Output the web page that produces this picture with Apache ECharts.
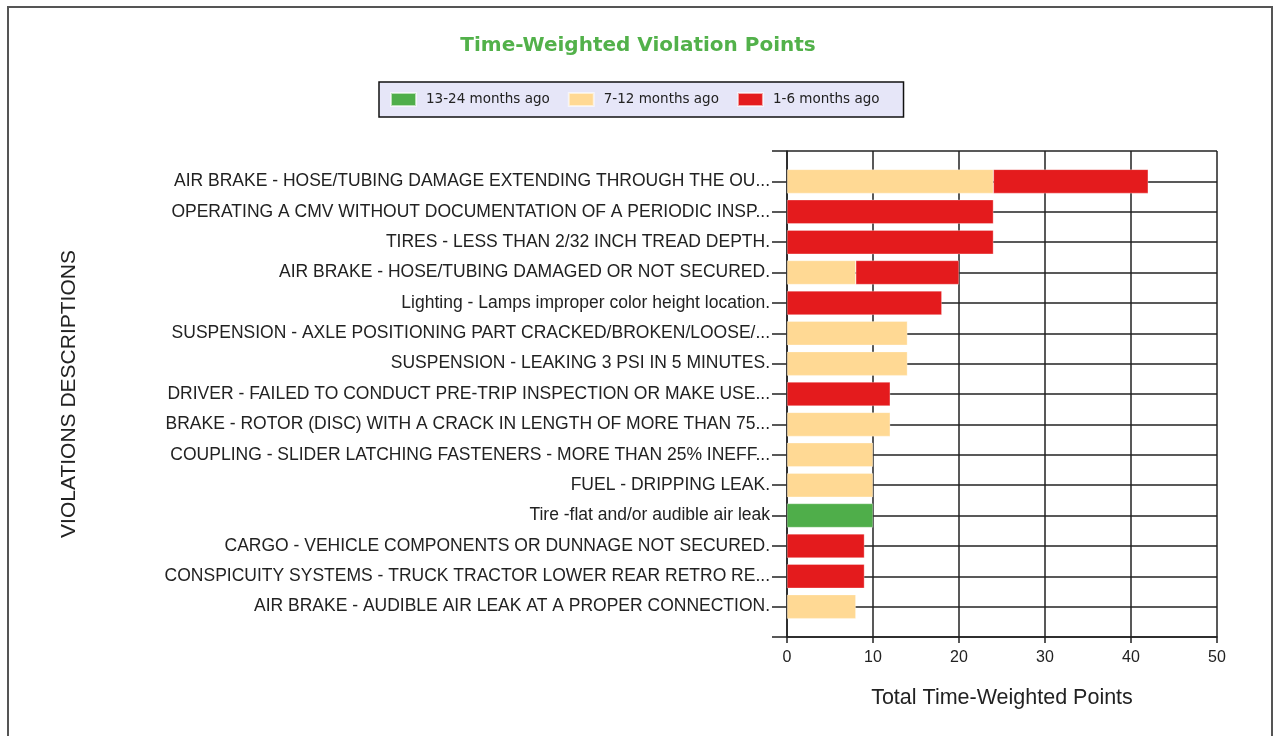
<!DOCTYPE html>
<html>
<head>
<meta charset="utf-8">
<script src="https://cdn.jsdelivr.net/npm/echarts@6/dist/echarts.min.js"></script>
<style>
  html, body { margin: 0; padding: 0; background: #fff; }
  #chart { width: 1276px; height: 736px; }
  .frame {
    position: absolute; left: 7px; top: 6px; width: 1266px; height: 740px;
    border: 2px solid #555; box-sizing: border-box; pointer-events: none;
  }
</style>
</head>
<body>
<div id="chart"></div>
<div class="frame"></div>
<script>
// violation descriptions, top to bottom
const categories = [
  'AIR BRAKE - HOSE/TUBING DAMAGE EXTENDING THROUGH THE OU...',
  'OPERATING A CMV WITHOUT DOCUMENTATION OF A PERIODIC INSP...',
  'TIRES - LESS THAN 2/32 INCH TREAD DEPTH.',
  'AIR BRAKE - HOSE/TUBING DAMAGED OR NOT SECURED.',
  'Lighting - Lamps improper color height location.',
  'SUSPENSION - AXLE POSITIONING PART CRACKED/BROKEN/LOOSE/...',
  'SUSPENSION - LEAKING 3 PSI IN 5 MINUTES.',
  'DRIVER - FAILED TO CONDUCT PRE-TRIP INSPECTION OR MAKE USE...',
  'BRAKE - ROTOR (DISC) WITH A CRACK IN LENGTH OF MORE THAN 75...',
  'COUPLING - SLIDER LATCHING FASTENERS - MORE THAN 25% INEFF...',
  'FUEL - DRIPPING LEAK.',
  'Tire -flat and/or audible air leak',
  'CARGO - VEHICLE COMPONENTS OR DUNNAGE NOT SECURED.',
  'CONSPICUITY SYSTEMS - TRUCK TRACTOR LOWER REAR RETRO RE...',
  'AIR BRAKE - AUDIBLE AIR LEAK AT A PROPER CONNECTION.'
];
const months13to24 = [0, 0, 0, 0, 0, 0, 0, 0, 0, 0, 0, 10, 0, 0, 0];
const months7to12  = [24, 0, 0, 8, 0, 14, 14, 0, 12, 10, 10, 0, 0, 0, 8];
const months1to6   = [18, 24, 24, 12, 18, 0, 0, 12, 0, 0, 0, 0, 9, 9, 0];
const xTicks = { min: 0, max: 50, interval: 10 };

// empty slot above and below so grid lines run through bar centres
const pad = arr => [null, ...arr.map(v => (v ? v : null)), null];
const yCats = ['', ...categories, ''];

const chart = echarts.init(document.getElementById('chart'));

const series = [
  { name: '13-24 months ago', color: '#4FAE4A', data: months13to24 },
  { name: '7-12 months ago', color: '#FFD994', data: months7to12 },
  { name: '1-6 months ago', color: '#E41B1D', data: months1to6 }
].map(s => ({
  name: s.name,
  type: 'bar',
  stack: 'total',
  barWidth: 24,
  itemStyle: { color: s.color, borderColor: 'rgba(255,255,255,0.6)', borderWidth: 0.5 },
  data: pad(s.data)
}));

chart.setOption({
  backgroundColor: '#fff',
  animation: false,
  title: {
    text: 'Time-Weighted Violation Points',
    left: 'center',
    top: 31,
    textStyle: { color: '#52B14A', fontFamily: 'DejaVu Sans', fontWeight: 'bold', fontSize: 20 }
  },
  legend: {
    left: 379,
    top: 82,
    icon: 'rect',
    itemWidth: 25,
    itemHeight: 13,
    itemGap: 18,
    padding: [10, 24, 10, 11],
    backgroundColor: '#E6E6F8',
    borderColor: '#111',
    borderWidth: 1.5,
    textStyle: { fontFamily: 'DejaVu Sans', fontSize: 13.5, color: '#222', padding: [0, 0, 0, 5] },
    data: series.map(s => s.name)
  },
  grid: { left: 787, right: 59, top: 151, bottom: 99 },
  xAxis: {
    type: 'value',
    min: xTicks.min,
    max: xTicks.max,
    interval: xTicks.interval,
    name: 'Total Time-Weighted Points',
    nameLocation: 'middle',
    nameGap: 50,
    nameTextStyle: { fontFamily: 'Liberation Sans', fontSize: 21.5, color: '#222' },
    axisLine: { show: true, lineStyle: { color: '#222', width: 1.5 } },
    axisTick: { show: true, length: 6, lineStyle: { color: '#222', width: 1.5 } },
    axisLabel: { fontFamily: 'Liberation Sans', fontSize: 16, color: '#222', margin: 13 },
    splitLine: { show: true, lineStyle: { color: '#222', width: 1.5 } }
  },
  yAxis: {
    type: 'category',
    inverse: true,
    boundaryGap: false,
    data: yCats,
    name: 'VIOLATIONS DESCRIPTIONS',
    nameLocation: 'middle',
    nameGap: 707,
    nameRotate: 90,
    nameTextStyle: { fontFamily: 'Liberation Sans', fontSize: 21, color: '#222' },
    axisLine: { show: true, lineStyle: { color: '#222', width: 1.5 } },
    axisTick: { show: true, length: 15, alignWithLabel: true, lineStyle: { color: '#222', width: 1.5 } },
    axisLabel: { fontFamily: 'Liberation Sans', fontSize: 17.5, color: '#222', margin: 17, interval: 0 },
    splitLine: { show: true, interval: 0, lineStyle: { color: '#222', width: 1.5 } }
  },
  series: series
});
</script>
</body>
</html>
